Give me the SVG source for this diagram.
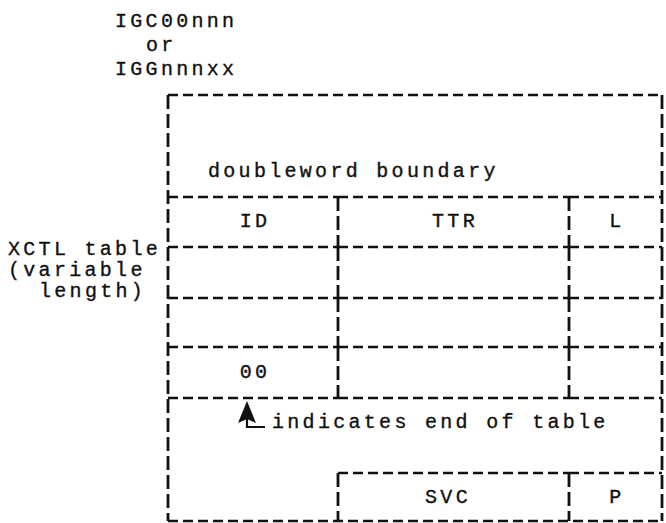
<svg xmlns="http://www.w3.org/2000/svg" width="666" height="523" viewBox="0 0 666 523">
<style>
.t{font-family:"Liberation Mono","DejaVu Sans Mono",monospace;font-size:20px;letter-spacing:3.3px;fill:#111;stroke:#111;stroke-width:0.35}
.c{text-anchor:middle}
.d{stroke:#111;stroke-width:2.6;fill:none;stroke-dasharray:10 5}
.v{stroke:#111;stroke-width:2.8;fill:none;stroke-dasharray:14 5}
</style>
<rect width="666" height="523" fill="#fff"/>
<g id="header">
<text class="t" x="115" y="27">IGC00nnn</text>
<text class="t" x="146" y="51">or</text>
<text class="t" x="115" y="75">IGGnnnxx</text>
</g>
<g id="side-label">
<text class="t" x="8" y="255">XCTL table</text>
<text class="t" x="8" y="276">(variable</text>
<text class="t" x="39" y="297">length)</text>
</g>
<g id="frame">
<path class="d" d="M168 95H662"/>
<path class="v" d="M168 95V521"/>
<path class="v" d="M662 95V521"/>
<path class="d" d="M168 521H662"/>
</g>
<g id="boundary">
<text class="t" x="208" y="177">doubleword boundary</text>
</g>
<g id="rows">
<path class="d" d="M168 197H338M338 197H569M569 197H662"/>
<path class="d" d="M168 247H338M338 247H569M569 247H662"/>
<path class="d" d="M168 298H338M338 298H569M569 298H662"/>
<path class="d" d="M168 347H338M338 347H569M569 347H662"/>
<path class="d" d="M168 398H338M338 398H569M569 398H662"/>
<path class="v" d="M338 197V247M338 247V298M338 298V347M338 347V398"/>
<path class="v" d="M569 197V247M569 247V298M569 298V347M569 347V398"/>
</g>
<g id="row-labels">
<text class="t c" x="255" y="227">ID</text>
<text class="t c" x="455" y="227">TTR</text>
<text class="t c" x="617" y="227">L</text>
<text class="t c" x="255" y="378">00</text>
</g>
<g id="svc-box">
<path class="d" d="M338 473H569M569 473H662"/>
<path class="v" d="M338 473V521"/>
<path class="v" d="M569 473V521"/>
<text class="t c" x="448" y="503">SVC</text>
<text class="t c" x="617" y="503">P</text>
</g>
<g id="connectors">
<path d="M247 404V427H265" stroke="#111" stroke-width="2.2" fill="none"/>
<polygon points="247,401 256,423 247,419 238,423" fill="#111"/>
</g>
<g id="note">
<text class="t" x="272" y="428">indicates end of table</text>
</g>
</svg>
